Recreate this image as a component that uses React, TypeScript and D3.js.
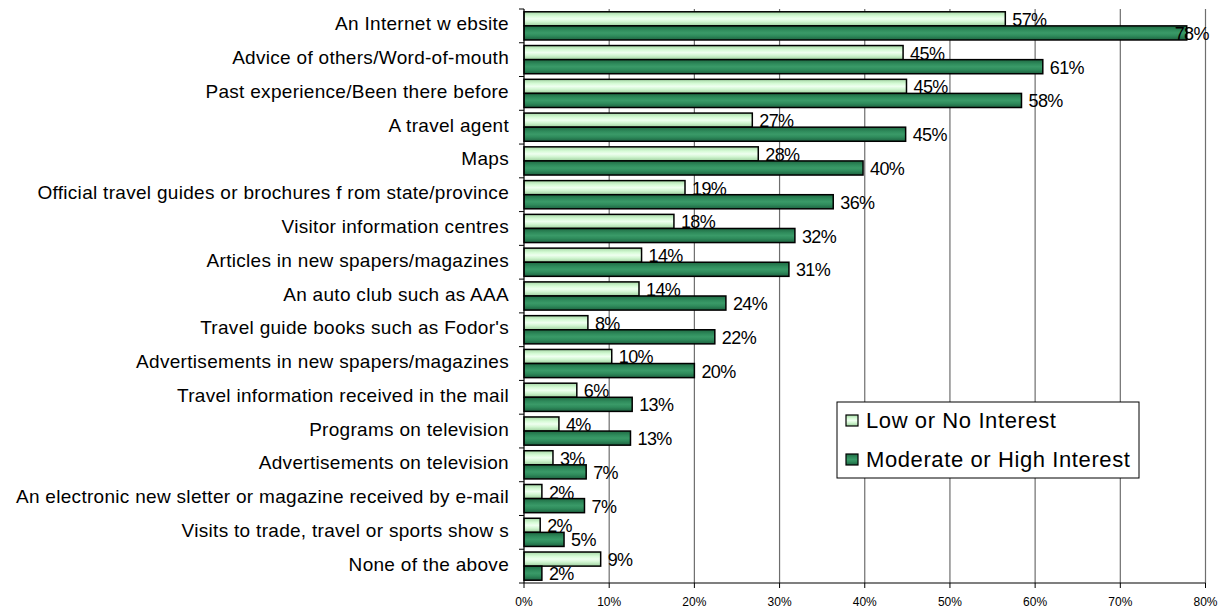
import React from "react";
import * as d3 from "d3";

const categories = [
  "An Internet w ebsite",
  "Advice of others/Word-of-mouth",
  "Past experience/Been there before",
  "A travel agent",
  "Maps",
  "Official travel guides or brochures f rom state/province",
  "Visitor information centres",
  "Articles in new spapers/magazines",
  "An auto club such as AAA",
  "Travel guide books such as Fodor's",
  "Advertisements in new spapers/magazines",
  "Travel information received in the mail",
  "Programs on television",
  "Advertisements on television",
  "An electronic new sletter or magazine received by e-mail",
  "Visits to trade, travel or sports show s",
  "None of the above",
];

const lowInterest = [56.5, 44.5, 44.9, 26.8, 27.5, 18.9, 17.6, 13.8, 13.5, 7.5, 10.3, 6.2, 4.1, 3.4, 2.1, 1.9, 9.0];
const highInterest = [77.8, 60.9, 58.4, 44.8, 39.8, 36.3, 31.8, 31.1, 23.7, 22.4, 20.0, 12.7, 12.5, 7.3, 7.1, 4.7, 2.1];

const seriesNames = ["Low or No Interest", "Moderate or High Interest"];
const xTicks = [0, 10, 20, 30, 40, 50, 60, 70, 80];

const W = 1230;
const H = 612;
const FONT = "'Liberation Sans', Arial, sans-serif";

export default function App() {
  const x = d3.scaleLinear().domain([0, 80]).range([524, 1205.5]);
  const y = d3
    .scaleBand<string>()
    .domain(categories)
    .range([9, 583])
    .paddingInner(0.165)
    .paddingOuter(0.0825);
  const sub = d3.scaleBand<string>().domain(seriesNames).range([0, y.bandwidth()]).padding(0);
  const series = [lowInterest, highInterest];
  const fills = ["url(#gLight)", "url(#gDark)"];
  const step = y.step();
  const top = y.range()[0];
  const bottom = y.range()[1];
  const boundaries = d3.range(categories.length + 1).map((i) => top + i * step);
  const fmt = (v: number) => `${Math.round(v)}%`;

  return (
    <svg width={W} height={H} style={{ position: "absolute", left: 0, top: 0, background: "#fff" }}>
      <defs>
        <linearGradient id="gLight" x1="0" y1="0" x2="0" y2="1">
          <stop offset="0%" stopColor="#a6d8a6" />
          <stop offset="30%" stopColor="#d6fbd6" />
          <stop offset="50%" stopColor="#effff0" />
          <stop offset="70%" stopColor="#d2f6d2" />
          <stop offset="100%" stopColor="#9ccf9c" />
        </linearGradient>
        <linearGradient id="gDark" x1="0" y1="0" x2="0" y2="1">
          <stop offset="0%" stopColor="#1f6a43" />
          <stop offset="30%" stopColor="#2f8c5c" />
          <stop offset="50%" stopColor="#3a9a68" />
          <stop offset="70%" stopColor="#2f8c5c" />
          <stop offset="100%" stopColor="#1d6240" />
        </linearGradient>
      </defs>

      {/* gridlines */}
      {xTicks.slice(1).map((t) => (
        <line key={"g" + t} x1={x(t)} x2={x(t)} y1={top} y2={bottom} stroke="#6e6e6e" strokeWidth={1.2} />
      ))}

      {/* bars */}
      {categories.map((c, i) =>
        series.map((s, k) => {
          const by = (y(c) as number) + (sub(seriesNames[k]) as number);
          return (
            <rect
              key={c + k}
              x={x(0)}
              y={by}
              width={x(s[i]) - x(0)}
              height={sub.bandwidth()}
              fill={fills[k]}
              stroke="#000"
              strokeWidth={1.5}
            />
          );
        })
      )}

      {/* value labels */}
      {categories.map((c, i) =>
        series.map((s, k) => {
          const by = (y(c) as number) + (sub(seriesNames[k]) as number) + sub.bandwidth() / 2;
          const label = fmt(s[i]);
          const approxW = label.length * 10.6;
          let lx = x(s[i]) + 7;
          if (lx + approxW > x(80) + 1) lx = x(80) + 1 - approxW;
          return (
            <text
              key={"l" + c + k}
              x={lx}
              y={by + 1}
              dominantBaseline="central"
              fontFamily={FONT}
              fontSize={18}
              letterSpacing={-0.6}
              fill="#000"
            >
              {label}
            </text>
          );
        })
      )}

      {/* left axis */}
      <line x1={x(0)} x2={x(0)} y1={top} y2={bottom} stroke="#000" strokeWidth={1.2} />
      {boundaries.map((b, i) => (
        <line key={"yt" + i} x1={x(0) - 5} x2={x(0)} y1={b} y2={b} stroke="#000" strokeWidth={1} />
      ))}
      {categories.map((c) => (
        <text
          key={"c" + c}
          x={509}
          y={(y(c) as number) + y.bandwidth() / 2 - 2}
          textAnchor="end"
          dominantBaseline="central"
          fontFamily={FONT}
          fontSize={19}
          letterSpacing={0.3}
          fill="#000"
        >
          {c}
        </text>
      ))}

      {/* bottom axis */}
      <line x1={x(0)} x2={x(80)} y1={bottom} y2={bottom} stroke="#000" strokeWidth={1.2} />
      {xTicks.map((t) => (
        <g key={"xt" + t}>
          <line x1={x(t)} x2={x(t)} y1={bottom} y2={bottom + 5} stroke="#000" strokeWidth={1} />
          <text
            x={x(t)}
            y={602}
            textAnchor="middle"
            dominantBaseline="central"
            fontFamily={FONT}
            fontSize={12}
            fill="#000"
          >
            {t}%
          </text>
        </g>
      ))}

      {/* legend */}
      <rect x={837} y={402} width={302} height={76} fill="#fff" stroke="#000" strokeWidth={1} />
      {seriesNames.map((n, k) => (
        <g key={"lg" + n}>
          <rect x={846} y={[415, 454][k]} width={12} height={11} fill={fills[k]} stroke="#000" strokeWidth={1.2} />
          <text
            x={866}
            y={[420, 459][k]}
            dominantBaseline="central"
            fontFamily={FONT}
            fontSize={22}
            letterSpacing={0.6}
            fill="#000"
          >
            {n}
          </text>
        </g>
      ))}
    </svg>
  );
}
